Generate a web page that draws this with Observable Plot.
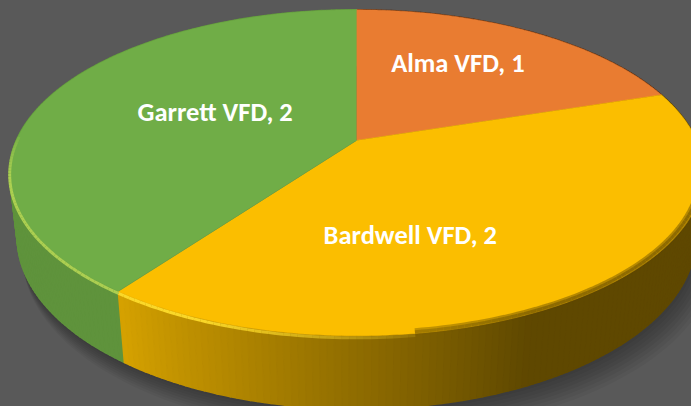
<!DOCTYPE html>
<html><head><meta charset="utf-8">
<script src="https://cdn.jsdelivr.net/npm/d3@7"></script>
<script src="https://cdn.jsdelivr.net/npm/@observablehq/plot@0.6"></script>
<style>html,body{margin:0;padding:0;background:#595959;overflow:hidden}</style>
</head><body><div id="chart"></div>
<script>
// ---- data ----
const names = ["Alma VFD", "Bardwell VFD", "Garrett VFD"];
const values = [1, 2, 2];
const colors = ["#E97C31", "#FBBE00", "#70AD47"];

// ---- layout (not data) ----
const tilt = 27.4 * Math.PI / 180, ce = Math.cos(tilt), se = Math.sin(tilt);
const dist = 4.48, focal = 1524, thick = 0.214;
const labelNudge = [[-12, -5], [-56, 25], [17, -4]]; // px, Excel best-fit placement

function proj(phiDeg, r, Y) {
  const p = phiDeg * Math.PI / 180;
  const X = r * Math.sin(p), Z = -r * Math.cos(p);
  const u = Y * ce - Z * se, w = Y * se + Z * ce, s = focal / (dist - w);
  return [X * s, u * s];
}
const arcs = d3.pie().sort(null).value(d => d)(values);
const slices = arcs.map((a, i) => ({
  name: names[i], value: values[i], color: colors[i],
  a0: a.startAngle * 180 / Math.PI, a1: a.endAngle * 180 / Math.PI
}));

// top faces
const topPts = [];
slices.forEach((s, i) => {
  const [cx, cy] = proj(0, 0, 0);
  topPts.push({id: "t" + i, x: cx, y: cy, fill: s.color});
  const n = Math.ceil((s.a1 - s.a0) * 2);
  for (let k = 0; k <= n; k++) {
    const phi = s.a0 + (s.a1 - s.a0) * k / n;
    const [x, y] = proj(phi, 1, 0);
    topPts.push({id: "t" + i, x, y, fill: s.color});
  }
});

// side quads
function shade(phi) { return Math.max(0.38, Math.min(0.85, 0.40 + (phi - 158) * 0.0078)); }
function scaled(c, k) { const r = d3.rgb(c); return d3.rgb(r.r * k, r.g * k, r.b * k).formatHex(); }
const quads = [];
slices.forEach((s, i) => {
  const n = Math.ceil(s.a1 - s.a0);
  for (let k = 0; k < n; k++) {
    const p0 = s.a0 + (s.a1 - s.a0) * k / n, p1 = s.a0 + (s.a1 - s.a0) * (k + 1) / n;
    const pm = (p0 + p1) / 2;
    quads.push({p0, p1, z: -Math.cos(pm * Math.PI / 180), fill: scaled(s.color, shade(pm))});
  }
});
quads.sort((a, b) => a.z - b.z);
const sidePts = [];
quads.forEach((q, j) => {
  [[q.p0, 0], [q.p1, 0], [q.p1, -thick], [q.p0, -thick]].forEach(([p, Y]) => {
    const [x, y] = proj(p, 1, Y);
    sidePts.push({id: "q" + j, x, y, fill: q.fill});
  });
});

// soft shadow layers (to the lower right)
const shadowPts = [];
for (let L = 1; L <= 8; L++) {
  for (let phi = 0; phi <= 360; phi += 2) {
    const [x, y] = proj(phi, 1 + 0.003 * L, -thick - 0.004 * L);
    shadowPts.push({id: "s" + L, x: x + 1.6 * L, y: y - 1.0 * L});
  }
}

// rim highlight (left/front) and soft dark edge (right)
const rimLight = [], rimDark = [];
slices.forEach((s) => {
  for (let phi = Math.max(s.a0, 96); phi < Math.min(s.a1, 272); phi += 1) {
    const p1 = Math.min(phi + 1, s.a1);
    const pm = (phi + p1) / 2;
    if (pm >= 172) {
      const [x1, y1] = proj(phi, 1.0, -0.006), [x2, y2] = proj(p1, 1.0, -0.006);
      const t = Math.min(1, (pm - 172) / 30) * Math.min(1, (272 - pm) / 14);
      rimLight.push({x1, y1, x2, y2, color: d3.interpolateRgb(s.color, "#ffff60")(0.45), op: 0.15 + 0.8 * t});
    } else {
      const [x1, y1] = proj(phi, 0.993, 0), [x2, y2] = proj(p1, 0.993, 0);
      const t = Math.min(1, (pm - 96) / 10);
      rimDark.push({x1, y1, x2, y2, color: scaled(s.color, shade(pm)), op: 0.45 * t});
    }
  }
});

// labels at sector centroids (projected), nudged like Excel's best fit
const labels = slices.map((s, i) => {
  const half = (s.a1 - s.a0) / 2 * Math.PI / 180;
  const r = 2 * Math.sin(half) / (3 * half);
  const [x, y] = proj((s.a0 + s.a1) / 2, r, 0);
  return {x, y, dx: labelNudge[i][0], dy: labelNudge[i][1], text: `${s.name}, ${s.value}`};
});

const chart = Plot.plot({
  width: 691, height: 406, margin: 0,
  style: {background: "#595959", overflow: "hidden"},
  x: {domain: [-356, 335], range: [0, 691], axis: null},
  y: {domain: [140, -266], range: [0, 406], axis: null},
  marks: [
    Plot.line(shadowPts, {x: "x", y: "y", z: "id", fill: "#000", fillOpacity: 0.045, stroke: "none"}),
    Plot.line(sidePts, {x: "x", y: "y", z: "id", fill: "fill", stroke: "fill", strokeWidth: 1.6}),
    Plot.line(topPts, {x: "x", y: "y", z: "id", fill: "fill", stroke: "fill", strokeWidth: 0.6}),
    Plot.link(rimDark, {x1: "x1", y1: "y1", x2: "x2", y2: "y2", stroke: "color", strokeOpacity: "op", strokeWidth: 7, strokeLinecap: "butt"}),
    Plot.link(rimDark, {x1: "x1", y1: "y1", x2: "x2", y2: "y2", stroke: "color", strokeOpacity: "op", strokeWidth: 3, strokeLinecap: "butt"}),
    Plot.link(rimLight, {x1: "x1", y1: "y1", x2: "x2", y2: "y2", stroke: "color", strokeOpacity: "op", strokeWidth: 3, strokeLinecap: "butt"}),
    ...labels.map(l => Plot.text([l], {x: "x", y: "y", text: "text", dx: l.dx, dy: l.dy, fill: "white", fontSize: 26.5, fontWeight: "bold",
      fontFamily: "Calibri, Carlito, Lato, sans-serif"}))
  ]
});
document.getElementById("chart").append(chart);
</script>
</body></html>
